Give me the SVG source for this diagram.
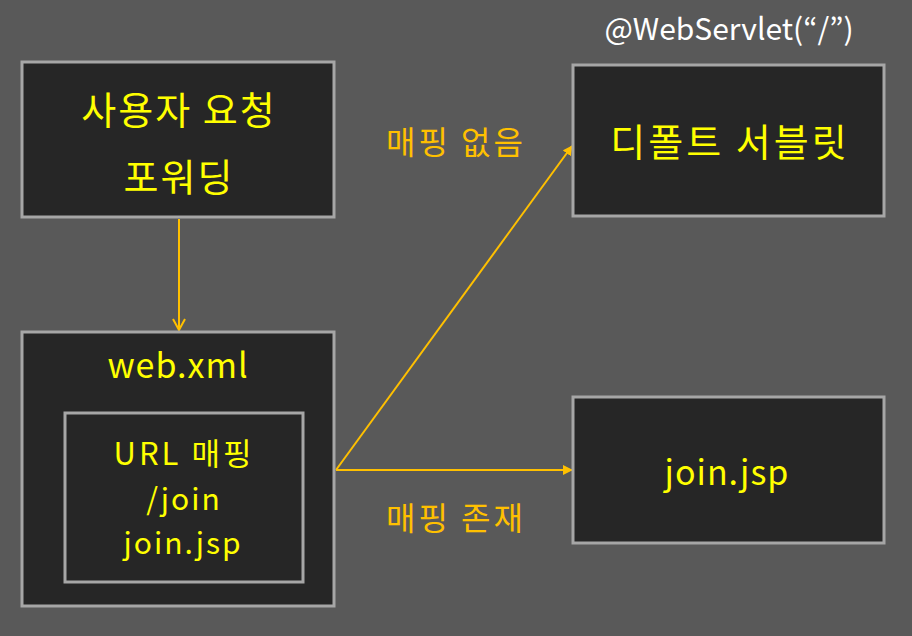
<svg xmlns="http://www.w3.org/2000/svg" width="912" height="636" viewBox="0 0 912 636">
<style>
.box{fill:#262626;stroke:#A6A6A6;stroke-width:3}
.t{font-family:"Noto Sans CJK KR","Noto Sans",sans-serif;fill:#FFFF00;text-anchor:middle}
.big{font-size:38px;letter-spacing:2px}
.mid{font-size:34px;letter-spacing:1px}
.in{font-size:30px;letter-spacing:2px}
.lbl{font-family:"Noto Sans CJK KR","Noto Sans",sans-serif;fill:#FFC000;font-size:32px;letter-spacing:3px}
.c{stroke:#FFC000;stroke-width:2;fill:none}
</style>
<defs>
<marker id="tri" markerWidth="10" markerHeight="10" refX="9" refY="5" orient="auto" markerUnits="userSpaceOnUse" viewBox="0 0 10 10"><path d="M0,0 L10,5 L0,10 z" fill="#FFC000"/></marker>
<marker id="open" markerWidth="14" markerHeight="14" refX="12" refY="7" orient="auto" markerUnits="userSpaceOnUse" viewBox="0 0 14 14"><path d="M1,1 L12,7 L1,13" fill="none" stroke="#FFC000" stroke-width="2"/></marker>
</defs>
<rect width="912" height="636" fill="#595959"/>
<g id="connectors">
<line class="c" x1="179" y1="219" x2="179" y2="330" marker-end="url(#open)"/>
<line class="c" x1="336" y1="470" x2="572" y2="470" marker-end="url(#tri)"/>
<line class="c" x1="336" y1="470" x2="572" y2="146" marker-end="url(#tri)"/>
<text class="lbl" x="386" y="154">매핑 없음</text>
<text class="lbl" x="386" y="530">매핑 존재</text>
</g>
<g id="request">
<rect class="box" x="22" y="62" width="312" height="155"/>
<text class="t big" x="179" y="124">사용자 요청</text>
<text class="t big" x="179" y="191">포워딩</text>
</g>
<g id="webxml">
<rect class="box" x="22" y="332" width="312" height="274"/>
<text class="t mid" x="178" y="378">web.xml</text>
</g>
<g id="urlmapping">
<rect class="box" x="65" y="413" width="238" height="169"/>
<text class="t in" x="184" y="465" style="font-size:31px;letter-spacing:3px">URL 매핑</text>
<text class="t in" x="184" y="510">/join</text>
<text class="t in" x="183" y="554">join.jsp</text>
</g>
<g id="default">
<text x="729" y="40" font-family="'Noto Sans CJK KR','Noto Sans',sans-serif" font-size="30" fill="#FFFFFF" text-anchor="middle">@WebServlet(“/”)</text>
<rect class="box" x="573" y="65" width="311" height="151"/>
<text class="t big" x="730" y="156" style="letter-spacing:3px">디폴트 서블릿</text>
</g>
<g id="joinjsp">
<rect class="box" x="573" y="397" width="311" height="146"/>
<text class="t mid" x="727" y="485">join.jsp</text>
</g>
</svg>
